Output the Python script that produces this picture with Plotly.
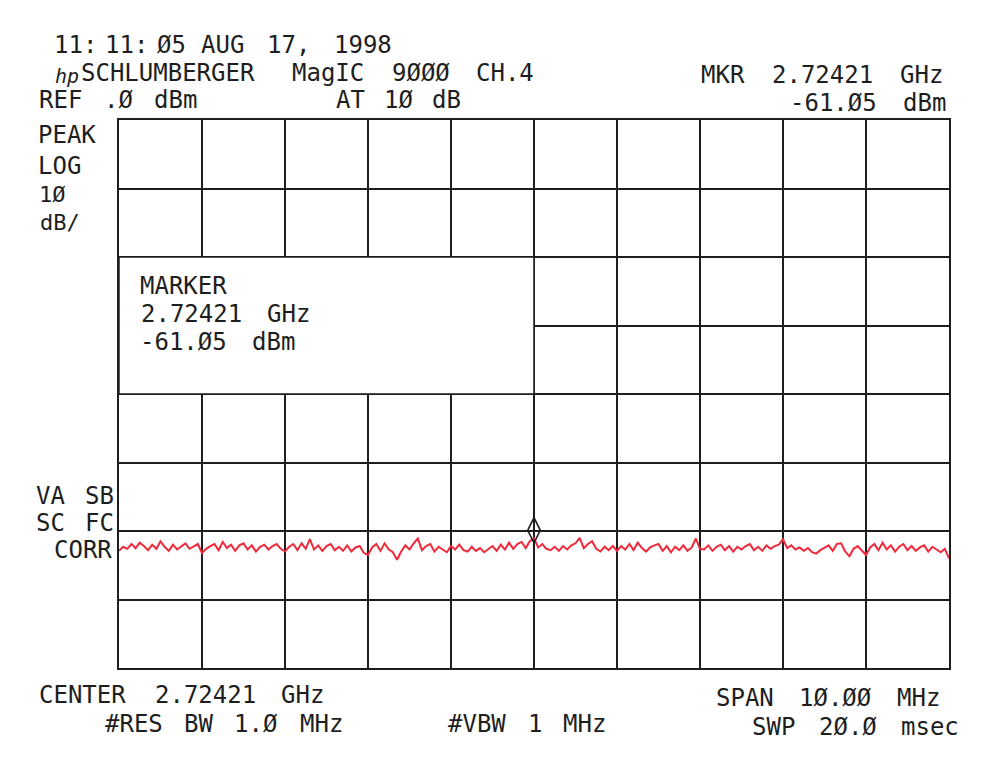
import numpy as np
import plotly.graph_objects as go

# spectrum analyzer trace, dBm (center 2.72421 GHz, span 10 MHz)
center_ghz = 2.72421
span_mhz = 10.0
trace_dbm = [
    -62.9, -62.3, -62.6, -61.9, -62.5, -61.7, -62.2, -62.8, -62.0, -62.6,
    -61.5, -62.3, -62.9, -62.0, -62.7, -62.2, -61.8, -62.6, -62.2, -61.9,
    -63.2, -62.6, -62.2, -61.9, -62.8, -61.6, -62.5, -62.0, -62.9, -62.1,
    -61.8, -62.7, -62.1, -63.0, -62.3, -62.0, -62.7, -62.2, -61.9, -62.6,
    -63.0, -62.3, -61.9, -62.8, -61.8, -62.6, -61.2, -62.7, -62.1, -62.9,
    -62.2, -61.9, -62.8, -62.3, -62.9, -62.1, -63.0, -62.4, -62.2, -63.2,
    -63.5, -62.4, -61.9, -62.9, -61.8, -62.7, -63.1, -64.2, -63.0, -62.1,
    -62.7, -61.8, -61.1, -62.8, -62.2, -61.9, -63.0, -62.3, -62.7, -63.1,
    -62.2, -62.7, -62.0, -62.8, -63.0, -62.3, -62.9, -62.5, -63.1, -62.6,
    -62.2, -62.9, -62.0, -62.7, -61.7, -62.6, -61.9, -61.6, -62.5, -61.5,
    -61.05, -62.4, -61.9, -62.6, -62.8, -62.3, -62.9, -62.2, -62.7, -62.1,
    -61.8, -61.0, -62.5, -61.9, -61.5, -62.6, -63.0, -62.3, -62.8, -62.2,
    -62.9, -62.2, -62.7, -61.9, -62.8, -61.7, -62.5, -63.0, -62.4, -62.1,
    -61.9, -62.9, -62.2, -63.1, -62.3, -62.8, -62.1, -62.9, -62.4, -61.1,
    -62.6, -62.7, -62.1, -62.9, -62.3, -62.0, -62.8, -62.2, -63.0, -62.3,
    -62.7, -62.2, -61.9, -62.8, -62.3, -62.9, -62.1, -62.6, -62.2, -62.0,
    -61.2, -62.5, -62.1, -62.7, -62.4, -62.9, -62.5, -63.1, -63.3, -62.8,
    -62.5, -62.1, -62.9, -61.9, -61.8, -63.0, -63.7, -62.6, -62.2, -62.9,
    -63.5, -62.4, -61.9, -62.8, -61.7, -62.7, -62.1, -63.0, -62.3, -61.9,
    -62.8, -62.2, -62.9, -62.4, -62.1, -63.0, -62.3, -62.7, -63.1, -62.6,
    -64.0,
]
freq_offset_mhz = np.linspace(-span_mhz / 2, span_mhz / 2, len(trace_dbm))

marker_offset_mhz = [0.0]
marker_symbol_db = [-59.9]

ref_db = 0
db_per_div = 10
n_div_y = 8

ink = "#1e1e1e"
mono = "DejaVu Sans Mono"

fig = go.Figure()
fig.add_trace(go.Scatter(x=freq_offset_mhz, y=trace_dbm, mode="lines",
                         line=dict(color="#ee2a3c", width=2), showlegend=False))
fig.add_trace(go.Scatter(x=marker_offset_mhz, y=marker_symbol_db, mode="markers",
                         marker=dict(symbol="diamond-tall-open", size=18,
                                     color=ink, line=dict(width=1.6, color=ink)),
                         showlegend=False))

# marker readout box blanks out part of the graticule
fig.add_shape(type="rect", x0=-5, x1=0, y0=-40, y1=-20, layer="above",
              fillcolor="white", line=dict(color=ink, width=1.5))

# pixel -> paper helpers (plot area 118..948 x 120..668 on screen)
def px(x):
    return (x - 118) / 830.0
def py(y):
    return (668 - y) / 548.0

# the plotter prints on a fixed character pitch that is wider than any
# installed mono font, so each word is centred on its own cells
def line(s, x, y, anchor="left", pitch=16.4, size=24):
    if anchor == "right":
        x = x - len(s) * pitch
    i = 0
    for word in s.split(" "):
        if word:
            cx = x + (i + len(word) / 2) * pitch
            fig.add_annotation(text=word, x=px(cx), y=py(y), xref="paper", yref="paper",
                               xanchor="center", yanchor="middle", showarrow=False,
                               font=dict(family=mono, size=size, color=ink))
        i += len(word) + 1

line("11: 11: Ø5", 55, 45, pitch=12.8)
line("AUG 17, 1998", 197, 45, pitch=16.5)
fig.add_annotation(text="<i>hp</i>", x=px(52), y=py(62), xref="paper", yref="paper",
                   showarrow=False, font=dict(family=mono, size=20, color=ink))
line("SCHLUMBERGER MagIC 9ØØØ CH.4", 66, 73, pitch=16.85)
line("REF .Ø dBm", 35, 100, pitch=16.4)
line("AT 1Ø dB", 334, 100, pitch=15.9)
line("MKR 2.72421 GHz", 945, 75, "right", pitch=16.5)
line("-61.Ø5 dBm", 948, 103, "right", pitch=16.5)
line("PEAK", 35, 135, pitch=15.6)
line("LOG", 35, 166, pitch=15.6)
line("1Ø", 35, 194, pitch=16, size=22)
line("dB/", 35, 222, pitch=16, size=22)
line("VA SB", 115, 496, "right", pitch=16.5)
line("SC FC", 115, 523, "right", pitch=16.5)
line("CORR", 114, 550, "right", pitch=16)
line("MARKER", 133, 286, pitch=16.5)
line("2.72421 GHz", 133, 314, pitch=16.3)
line("-61.Ø5 dBm", 133, 342, pitch=16.4)
line("CENTER 2.72421 GHz", 33, 695, pitch=16.3)
line("SPAN 1Ø.ØØ MHz", 942, 698, "right", pitch=16.5)
line("#RES BW 1.Ø MHz", 100, 724, pitch=16.3)
line("#VBW 1 MHz", 443, 724, pitch=16.5)
line("SWP 2Ø.Ø msec", 962, 727, "right", pitch=16.5)

fig.update_xaxes(range=[-span_mhz / 2, span_mhz / 2], dtick=span_mhz / 10, tick0=0,
                 showgrid=True, gridcolor=ink, gridwidth=1.5, zeroline=False,
                 showline=True, linecolor=ink, linewidth=1.5, mirror=True,
                 showticklabels=False, ticks="")
fig.update_yaxes(range=[ref_db - n_div_y * db_per_div, ref_db], dtick=db_per_div,
                 showgrid=True, gridcolor=ink, gridwidth=1.5, zeroline=False,
                 showline=True, linecolor=ink, linewidth=1.5, mirror=True,
                 showticklabels=False, ticks="")
# page body adds ~8px, so the figure is a bit smaller than the window
fig.update_layout(width=976, height=758, paper_bgcolor="white", plot_bgcolor="white",
                  margin=dict(l=111, r=35, t=112, b=98))

fig.write_html("out.html")
